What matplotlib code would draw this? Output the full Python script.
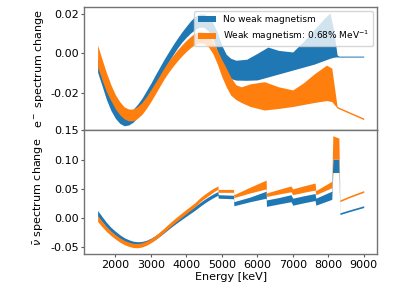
import matplotlib
matplotlib.use("Agg")
import matplotlib.pyplot as plt
from matplotlib.ticker import FormatStrFormatter

# ---------------- data ----------------
# top panel: e- spectrum change, "no weak magnetism" band
e_energy = [1500, 1625, 1750, 1875, 2000, 2125, 2250, 2375, 2500, 2625, 2750, 2875, 3000,
            3125, 3250, 3375, 3500, 3625, 3750, 3875, 4000, 4125, 4250, 4375, 4500, 4625,
            4750, 4875, 5000, 5125, 5250, 5400, 5700, 6000, 6300, 6600, 7000, 7300, 7600,
            7900, 8050, 8150, 8250, 8300, 8600, 9000]
e_nowm_low = [-0.0096, -0.0165, -0.0235, -0.0290, -0.0330, -0.0356, -0.0368, -0.0364, -0.0350,
              -0.0325, -0.0292, -0.0254, -0.0212, -0.0168, -0.0124, -0.0082, -0.0043, -0.0007,
              0.0027, 0.0057, 0.0082, 0.0104, 0.0122, 0.0133, 0.0132, 0.0112, 0.0072, 0.0010,
              -0.0060, -0.0105, -0.0128, -0.0136, -0.0137, -0.0135, -0.0120, -0.0105, -0.0085,
              -0.0070, -0.0055, -0.0035, -0.0025, -0.0020, -0.0018, -0.0019, -0.0019, -0.0019]
e_nowm_high = [-0.0020, -0.0095, -0.0165, -0.0220, -0.0262, -0.0290, -0.0302, -0.0298, -0.0284,
               -0.0259, -0.0228, -0.0190, -0.0152, -0.0110, -0.0070, -0.0030, 0.0007, 0.0043,
               0.0077, 0.0109, 0.0138, 0.0166, 0.0188, 0.0200, 0.0200, 0.0185, 0.0155, 0.0105,
               0.0040, -0.0005, -0.0025, -0.0035, -0.0030, 0.0000, 0.0032, 0.0015, 0.0007,
               0.0060, 0.0120, 0.0180, 0.0205, 0.0120, -0.0008, -0.0014, -0.0014, -0.0014]
# top panel: "weak magnetism" band
e_wm_energy = [1500, 1625, 1750, 1875, 2000, 2125, 2250, 2375, 2500, 2625, 2750, 2875, 3000,
               3125, 3250, 3375, 3500, 3625, 3750, 3875, 4000, 4125, 4250, 4375, 4500, 4625,
               4750, 4875, 5000, 5125, 5250, 5400, 5550, 5800, 6200, 6600, 7000, 7300, 7600,
               7950, 8100, 8250, 9000]
e_wm_low = [-0.0068, -0.0135, -0.0195, -0.0240, -0.0282, -0.0312, -0.0333, -0.0343, -0.0343,
            -0.0330, -0.0310, -0.0280, -0.0245, -0.0207, -0.0168, -0.0130, -0.0096, -0.0066,
            -0.0038, -0.0013, 0.0010, 0.0030, 0.0046, 0.0054, 0.0049, 0.0032, -0.0002, -0.0055,
            -0.0118, -0.0170, -0.0212, -0.0235, -0.0250, -0.0270, -0.0288, -0.0280, -0.0270,
            -0.0260, -0.0250, -0.0240, -0.0245, -0.0278, -0.0337]
e_wm_high = [0.0042, -0.0030, -0.0100, -0.0160, -0.0210, -0.0246, -0.0272, -0.0283, -0.0283,
             -0.0270, -0.0250, -0.0220, -0.0185, -0.0149, -0.0112, -0.0074, -0.0040, -0.0010,
             0.0018, 0.0043, 0.0066, 0.0086, 0.0104, 0.0112, 0.0107, 0.0092, 0.0062, 0.0015,
             -0.0032, -0.0075, -0.0120, -0.0160, -0.0170, -0.0155, -0.0144, -0.0170, -0.0186,
             -0.0150, -0.0105, -0.0060, -0.0075, -0.0270, -0.0329]

# bottom panel: anti-neutrino spectrum change (bands, with steps)
n_energy = [1500, 1625, 1750, 1875, 2000, 2125, 2250, 2375, 2500, 2625, 2750, 2875, 3000,
            3125, 3250, 3375, 3500, 3625, 3750, 3875, 4000, 4125, 4250, 4375, 4500, 4625,
            4750, 4890,
            4900, 5330,
            5340, 5800, 6250,
            6260, 6600, 6950,
            7000, 7300, 7630,
            7650, 8100,
            8130, 8300,
            8330, 8600, 9000]
n_nowm_low = [0.0030, -0.0065, -0.0155, -0.0231, -0.0294, -0.0354, -0.0404, -0.0439, -0.0464,
              -0.0474, -0.0469, -0.0449, -0.0414, -0.0369, -0.0314, -0.0254, -0.0192, -0.0132,
              -0.0076, -0.0022, 0.0031, 0.0084, 0.0136, 0.0195, 0.0250, 0.0300, 0.0345, 0.0390,
              0.034, 0.033,
              0.021, 0.028, 0.034,
              0.020, 0.024, 0.028,
              0.022, 0.026, 0.030,
              0.022, 0.032,
              0.078, 0.078,
              0.006, 0.011, 0.018]
n_nowm_high = [0.0130, 0.0025, -0.0075, -0.0159, -0.0226, -0.0286, -0.0336, -0.0371, -0.0396,
               -0.0406, -0.0401, -0.0381, -0.0346, -0.0301, -0.0246, -0.0186, -0.0124, -0.0064,
               -0.0008, 0.0046, 0.0099, 0.0152, 0.0204, 0.0260, 0.0315, 0.0365, 0.0410, 0.0455,
               0.040, 0.039,
               0.028, 0.036, 0.046,
               0.031, 0.035, 0.040,
               0.034, 0.038, 0.042,
               0.034, 0.046,
               0.101, 0.101,
               0.009, 0.014, 0.021]
n_wm_low = [-0.0060, -0.0148, -0.0231, -0.0300, -0.0359, -0.0412, -0.0455, -0.0485, -0.0505,
            -0.0510, -0.0496, -0.0467, -0.0424, -0.0372, -0.0310, -0.0243, -0.0174, -0.0107,
            -0.0044, 0.0017, 0.0077, 0.0136, 0.0195, 0.0270, 0.0330, 0.0385, 0.0440, 0.0495,
            0.044, 0.044,
            0.035, 0.043, 0.050,
            0.037, 0.041, 0.045,
            0.040, 0.044, 0.048,
            0.040, 0.052,
            0.101, 0.101,
            0.028, 0.035, 0.044]
n_wm_high = [0.0040, -0.0058, -0.0151, -0.0228, -0.0287, -0.0340, -0.0383, -0.0413, -0.0433,
             -0.0438, -0.0424, -0.0395, -0.0352, -0.0300, -0.0238, -0.0171, -0.0102, -0.0035,
             0.0028, 0.0089, 0.0149, 0.0208, 0.0267, 0.0340, 0.0400, 0.0455, 0.0505, 0.0550,
             0.049, 0.049,
             0.040, 0.053, 0.065,
             0.043, 0.049, 0.055,
             0.050, 0.055, 0.060,
             0.047, 0.063,
             0.141, 0.137,
             0.031, 0.038, 0.047]

labels = ["No weak magnetism", "Weak magnetism: 0.68% MeV$^{-1}$"]
colors = ["#1f77b4", "#ff7f0e"]
x_ticks = [2000, 3000, 4000, 5000, 6000, 7000, 8000, 9000]
top_yticks = [-0.02, 0.00, 0.02]
bot_yticks = [-0.05, 0.00, 0.05, 0.10, 0.15]

# ---------------- plot ----------------
FS = 8.0
plt.rcParams['font.family'] = ['DejaVu Sans']
plt.rcParams['font.size'] = FS

fig = plt.figure(figsize=(3.99, 2.88), dpi=100)
ax1 = fig.add_axes([0.2113, 0.5469, 0.7336, 0.4278])
ax2 = fig.add_axes([0.2113, 0.1181, 0.7336, 0.4288], sharex=ax1)

ax1.fill_between(e_energy, e_nowm_low, e_nowm_high, color=colors[0], lw=0, label=labels[0])
ax1.fill_between(e_wm_energy, e_wm_low, e_wm_high, color=colors[1], lw=0, label=labels[1])
ax2.fill_between(n_energy, n_nowm_low, n_nowm_high, color=colors[0], lw=0)
ax2.fill_between(n_energy, n_wm_low, n_wm_high, color=colors[1], lw=0)

ax1.set_ylim(-0.0392, 0.0234)
ax2.set_ylim(-0.0616, 0.15)
ax1.set_yticks(top_yticks)
ax2.set_yticks(bot_yticks)
ax1.yaxis.set_major_formatter(FormatStrFormatter('%.2f'))
ax2.yaxis.set_major_formatter(FormatStrFormatter('%.2f'))
ax2.set_xticks(x_ticks)
ax2.set_xlim(1125, 9375)
plt.setp(ax1.get_xticklabels(), visible=False)

for ax in (ax1, ax2):
    ax.tick_params(labelsize=FS, length=2.4, width=0.8, pad=1.6, color='0.35')
    for s in ax.spines.values():
        s.set_color('0.45')
        s.set_linewidth(1.0)

ax1.set_ylabel("e$^-$ spectrum change", fontsize=FS)
ax2.set_ylabel(r"$\bar{\nu}$ spectrum change", fontsize=FS)
ax1.yaxis.set_label_coords(-0.131, 0.5)
ax2.yaxis.set_label_coords(-0.131, 0.5)
ax2.set_xlabel("Energy [keV]", fontsize=FS, labelpad=1.5)

ax1.legend(loc='upper right', fontsize=6.5, borderaxespad=0.45)

fig.savefig("out.png", dpi=100)
